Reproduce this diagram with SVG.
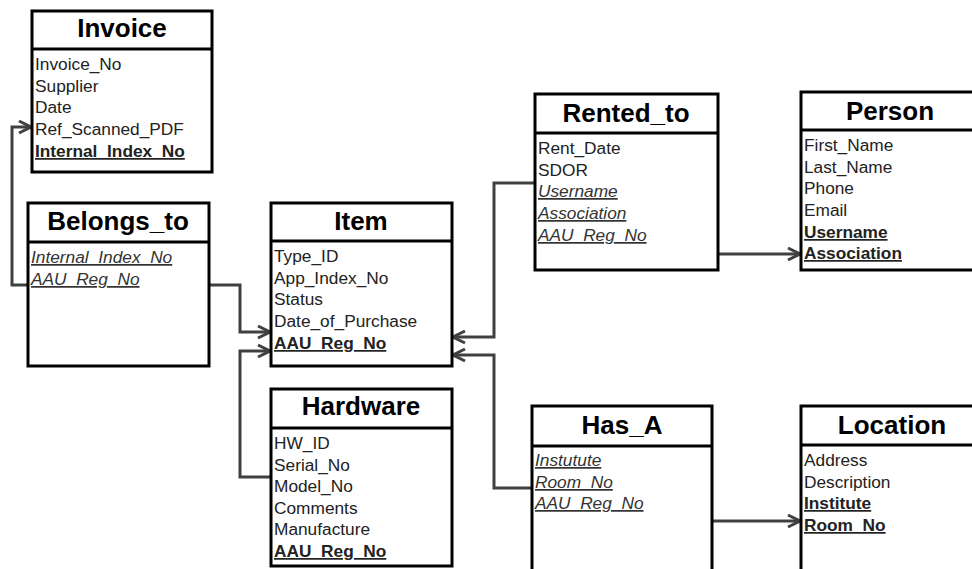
<svg xmlns="http://www.w3.org/2000/svg" width="972" height="569" viewBox="0 0 972 569">
<defs>
<style>
.box{fill:#fff;stroke:#000;stroke-width:3}
.hdr{stroke:#000;stroke-width:3}
.t{font-family:"Liberation Sans",Arial,sans-serif;font-size:26px;font-weight:bold;fill:#000;text-anchor:middle}
.a{font-family:"Liberation Sans",Arial,sans-serif;font-size:17.3px;fill:#222}
.k{font-weight:bold;text-decoration:underline}
.f{font-style:italic;text-decoration:underline;fill:#333}
.c{fill:none;stroke:#404040;stroke-width:3;marker-end:url(#arr)}
</style>
<marker id="arr" markerUnits="userSpaceOnUse" viewBox="-14 -8 16 16" refX="0" refY="0" markerWidth="16" markerHeight="16" orient="auto">
<path d="M-12,-6 L0,0 L-12,6" fill="none" stroke="#404040" stroke-width="3"/>
</marker>
</defs>
<rect width="972" height="569" fill="#fff"/>

<g id="connectors">
<path class="c" d="M28,285 H12 V127 H31"/>
<path class="c" d="M209,285 H240 V332 H270"/>
<path class="c" d="M271,477 H240 V351 H270"/>
<path class="c" d="M535,183 H494 V337 H453"/>
<path class="c" d="M532,488 H494 V355 H453"/>
<path class="c" d="M718,254 H800"/>
<path class="c" d="M712,521 H800"/>
</g>

<g id="invoice">
<rect class="box" x="32" y="11" width="180" height="161"/>
<line class="hdr" x1="32" y1="49" x2="212" y2="49"/>
<text class="t" x="122" y="37">Invoice</text>
<text class="a" x="35" y="70">Invoice_No</text>
<text class="a" x="35" y="92">Supplier</text>
<text class="a" x="35" y="113">Date</text>
<text class="a" x="35" y="135">Ref_Scanned_PDF</text>
<text class="a k" x="35" y="157">Internal_Index_No</text>
</g>

<g id="belongs_to">
<rect class="box" x="28" y="203" width="181" height="163"/>
<line class="hdr" x1="28" y1="242" x2="209" y2="242"/>
<text class="t" x="118" y="230">Belongs_to</text>
<text class="a f" x="31" y="263">Internal_Index_No</text>
<text class="a f" x="31" y="285">AAU_Reg_No</text>
</g>

<g id="item">
<rect class="box" x="271" y="203" width="181" height="163"/>
<line class="hdr" x1="271" y1="241" x2="452" y2="241"/>
<text class="t" x="361" y="230">Item</text>
<text class="a" x="274" y="262">Type_ID</text>
<text class="a" x="274" y="284">App_Index_No</text>
<text class="a" x="274" y="305">Status</text>
<text class="a" x="274" y="327">Date_of_Purchase</text>
<text class="a k" x="274" y="349">AAU_Reg_No</text>
</g>

<g id="hardware">
<rect class="box" x="271" y="389" width="181" height="177"/>
<line class="hdr" x1="271" y1="428" x2="452" y2="428"/>
<text class="t" x="361" y="415">Hardware</text>
<text class="a" x="274" y="449">HW_ID</text>
<text class="a" x="274" y="471">Serial_No</text>
<text class="a" x="274" y="492">Model_No</text>
<text class="a" x="274" y="514">Comments</text>
<text class="a" x="274" y="535">Manufacture</text>
<text class="a k" x="274" y="557">AAU_Reg_No</text>
</g>

<g id="rented_to">
<rect class="box" x="535" y="94" width="183" height="176"/>
<line class="hdr" x1="535" y1="133" x2="718" y2="133"/>
<text class="t" x="626" y="122">Rented_to</text>
<text class="a" x="538" y="154">Rent_Date</text>
<text class="a" x="538" y="176">SDOR</text>
<text class="a f" x="538" y="197">Username</text>
<text class="a f" x="538" y="219">Association</text>
<text class="a f" x="538" y="241">AAU_Reg_No</text>
</g>

<g id="person">
<rect class="box" x="801" y="92" width="185" height="178"/>
<line class="hdr" x1="801" y1="130" x2="986" y2="130"/>
<text class="t" x="890" y="120">Person</text>
<text class="a" x="804" y="151">First_Name</text>
<text class="a" x="804" y="173">Last_Name</text>
<text class="a" x="804" y="194">Phone</text>
<text class="a" x="804" y="216">Email</text>
<text class="a k" x="804" y="238">Username</text>
<text class="a k" x="804" y="259">Association</text>
</g>

<g id="has_a">
<rect class="box" x="532" y="406" width="180" height="175"/>
<line class="hdr" x1="532" y1="446" x2="712" y2="446"/>
<text class="t" x="622" y="434">Has_A</text>
<text class="a f" x="535" y="466">Instutute</text>
<text class="a f" x="535" y="488">Room_No</text>
<text class="a f" x="535" y="509">AAU_Reg_No</text>
</g>

<g id="location">
<rect class="box" x="801" y="406" width="185" height="175"/>
<line class="hdr" x1="801" y1="445" x2="986" y2="445"/>
<text class="t" x="892" y="434">Location</text>
<text class="a" x="804" y="466">Address</text>
<text class="a" x="804" y="488">Description</text>
<text class="a k" x="804" y="509">Institute</text>
<text class="a k" x="804" y="531">Room_No</text>
</g>
</svg>
